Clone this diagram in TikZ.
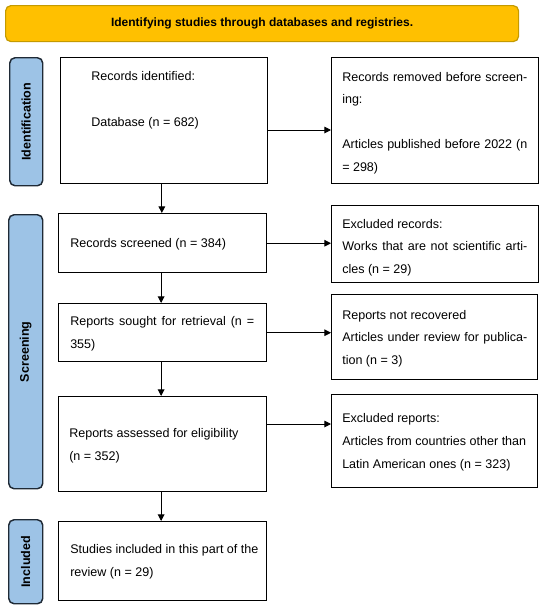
\documentclass[tikz,border=0pt]{standalone}
\usepackage{fontspec}
\setmainfont{Liberation Sans}
\usetikzlibrary{arrows.meta}
\definecolor{bannerfill}{HTML}{FFC000}
\definecolor{bannerdraw}{HTML}{C49A00}
\definecolor{phasefill}{HTML}{9DC3E6}
\definecolor{phasedraw}{HTML}{1F2A36}
\newcommand{\jline}[2]{\makebox[#1][s]{#2}}
\tikzset{
  sz/.style 2 args={minimum width={#1*0.75pt},minimum height={#2*0.75pt}},
  box/.style={draw=black,line width=1.1pt,inner sep=0pt,anchor=north west},
  phase/.style={draw=phasedraw,fill=phasefill,line width=1.1pt,rounded corners=4pt,inner sep=0pt,anchor=north west},
  banner/.style={draw=bannerdraw,fill=bannerfill,line width=0.9pt,rounded corners=4pt,inner sep=0pt,anchor=north west,font=\bfseries\fontsize{9pt}{11pt}\selectfont},
  txt/.style={anchor=base west,inner sep=0pt,align=left,font=\fontsize{9.4pt}{16.9pt}\selectfont},
  plabel/.style={rotate=90,font=\bfseries\fontsize{9.4pt}{11pt}\selectfont,inner sep=0pt},
  arr/.style={line width=0.75pt,-{Triangle[length=5pt,width=5pt]}}
}
\begin{document}
\begin{tikzpicture}[x=0.75pt,y=-0.75pt]
\useasboundingbox (0,0) rectangle (550,608);

% banner
\node[banner,sz={513}{36}] (ban) at (5,5) {Identifying studies through databases and registries.};

% phase labels
\node[phase,sz={33}{128}] (p1) at (9,57) {};
\node[plabel] (pl1) at (p1.center) {Identification};
\node[phase,sz={34}{274}] (p2) at (8,214) {};
\node[plabel] (pl2) at (p2.center) {Screening};
\node[phase,sz={34}{84}] (p3) at (8,519) {};
\node[plabel] (pl3) at (p3.center) {Included};

% main boxes
\node[box,sz={207}{126}] (b1) at (60,57) {};
\node[box,sz={208}{59}] (b2) at (58,213) {};
\node[box,sz={208}{58}] (b3) at (58,303) {};
\node[box,sz={208}{95}] (b4) at (58,396) {};
\node[box,sz={208}{79}] (b5) at (58,521) {};

% side boxes
\node[box,sz={207}{126}] (r1) at (331,57) {};
\node[box,sz={207}{77}] (r2) at (331,205) {};
\node[box,sz={206}{85}] (r3) at (331,294) {};
\node[box,sz={206}{93}] (r4) at (331,394) {};

% texts (anchor = baseline of the last line)
\node[txt] (t1) at (91,126.5) {Records identified:\\[17.6pt]Database (n = 682)};
\node[txt] (t2) at (70,247) {Records screened (n = 384)};
\node[txt] (t3) at (70,348.5) {\jline{138pt}{Reports sought for retrieval (n =}\\355)};
\node[txt] (t4) at (69,460.5) {Reports assessed for eligibility\\(n = 352)};
\node[txt] (t5) at (70,576) {Studies included in this part of the\\review (n = 29)};

\node[txt] (s1) at (342,171.5) {\jline{138.75pt}{Records removed before screen-}\\ing:\\[16.9pt]\jline{138.75pt}{Articles published before 2022 (n}\\= 298)};
\node[txt] (s2) at (342,273.5) {Excluded records:\\\jline{138.75pt}{Works that are not scientific arti-}\\cles (n = 29)};
\node[txt] (s3) at (342,364.5) {Reports not recovered\\\jline{138.75pt}{Articles under review for publica-}\\tion (n = 3)};
\node[txt] (s4) at (342,468) {Excluded reports:\\Articles from countries other than\\Latin American ones (n = 323)};

% vertical connectors
\draw[arr] ([xshift=-1.8pt]b1.south) -- ([xshift=-1.8pt]b1.south |- b2.north);
\draw[arr] ([xshift=-1.2pt]b2.south) -- ([xshift=-1.2pt]b2.south |- b3.north);
\draw[arr] ([xshift=-1.2pt]b3.south) -- ([xshift=-1.2pt]b3.south |- b4.north);
\draw[arr] ([xshift=-1.2pt]b4.south) -- ([xshift=-1.2pt]b4.south |- b5.north);

% horizontal connectors
\draw[arr] (b1.east |- 0,130) -- (r1.west |- 0,130);
\draw[arr] (b2.east) -- (r2.west |- b2.east);
\draw[arr] (b3.east) -- (r3.west |- b3.east);
\draw[arr] (b4.east |- 0,424) -- (r4.west |- 0,424);
\end{tikzpicture}
\end{document}
